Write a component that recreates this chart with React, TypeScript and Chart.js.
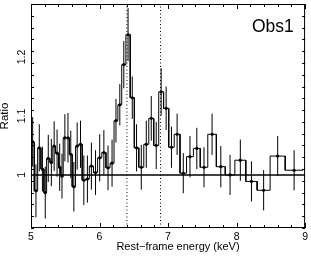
import React, { useEffect, useRef } from 'react';
import { Chart, registerables } from 'chart.js';

Chart.register(...registerables);

// ---- data ----
const binEdges = [
  5.000, 5.048, 5.097, 5.145, 5.188, 5.228, 5.276, 5.318, 5.358, 5.403, 5.434,
  5.470, 5.519, 5.560, 5.601, 5.650, 5.698, 5.747, 5.795, 5.851, 5.912, 5.972,
  6.033, 6.094, 6.154, 6.212, 6.268, 6.324, 6.385, 6.448, 6.508, 6.573, 6.646,
  6.719, 6.791, 6.864, 6.935, 7.010, 7.090, 7.175, 7.270, 7.370, 7.470, 7.580,
  7.705, 7.835, 7.975, 8.135, 8.300, 8.490, 8.710, 8.970,
];
const ratio = [
  1.056, 0.973, 1.046, 1.010, 0.970, 1.028, 1.021, 1.049, 1.037, 1.013, 0.998,
  1.063, 1.063, 1.035, 0.980, 1.049, 1.052, 0.991, 0.993, 1.015, 1.004,
  1.029, 1.038, 1.012, 1.020, 1.092, 1.119, 1.187, 1.238, 1.131, 1.046, 1.013,
  1.052, 1.096, 1.050, 1.141, 1.113, 1.047, 1.069, 1.003, 1.031, 1.045, 1.013,
  1.069, 1.014, 1.000, 1.025, 0.989, 0.974, 1.032, 1.008,
];
const ratioErr = [
  0.042, 0.045, 0.040, 0.038, 0.044, 0.040, 0.040, 0.042, 0.040, 0.040, 0.038,
  0.040, 0.042, 0.040, 0.042, 0.040, 0.040, 0.042, 0.040, 0.040, 0.038,
  0.040, 0.038, 0.038, 0.040, 0.037, 0.035, 0.040, 0.045, 0.036, 0.040, 0.038,
  0.040, 0.038, 0.040, 0.040, 0.037, 0.035, 0.035, 0.034, 0.035, 0.035, 0.034,
  0.035, 0.035, 0.034, 0.035, 0.034, 0.034, 0.034, 0.034,
];
const lineEnergies = [6.4, 6.89];
const refLevel = 1;
const xRange = [5, 9];
const yRange = [0.91, 1.29];
const xMajorTicks = [5, 6, 7, 8, 9];
const yMajorTicks = [1, 1.1, 1.2];
const yTickLabels = ['1', '1.1', '1.2'];
const xTitle = 'Rest\u2212frame energy (keV)';
const yTitle = 'Ratio';
const panelLabel = 'Obs1';

const FONT = '"Liberation Sans", Arial, Helvetica, sans-serif';

const framePlugin = {
  id: 'framePlugin',
  afterDraw(chart: any) {
    const { ctx, chartArea: a, scales } = chart;
    const x = scales.x;
    const y = scales.y;
    ctx.save();
    ctx.strokeStyle = '#000';
    ctx.fillStyle = '#000';
    ctx.lineWidth = 1;
    ctx.strokeRect(a.left + 0.5, a.top + 0.5, a.right - a.left - 1, a.bottom - a.top - 1);

    ctx.beginPath();
    for (const t of x.ticks) {
      const v = t.value;
      if (v < xRange[0] - 1e-9 || v > xRange[1] + 1e-9) continue;
      const major = xMajorTicks.some((m) => Math.abs(m - v) < 1e-6);
      const len = major ? 5 : 3;
      const px = Math.round(x.getPixelForValue(v)) + 0.5;
      ctx.moveTo(px, a.bottom);
      ctx.lineTo(px, a.bottom - len);
      ctx.moveTo(px, a.top);
      ctx.lineTo(px, a.top + len);
    }
    for (const t of y.ticks) {
      const v = t.value;
      if (v < yRange[0] - 1e-9 || v > yRange[1] + 1e-9) continue;
      const major = yMajorTicks.some((m) => Math.abs(m - v) < 1e-6);
      const len = major ? 5 : 3;
      const py = Math.round(y.getPixelForValue(v)) + 0.5;
      ctx.moveTo(a.left, py);
      ctx.lineTo(a.left + len, py);
      ctx.moveTo(a.right, py);
      ctx.lineTo(a.right - len, py);
    }
    ctx.stroke();

    // rotated y tick labels
    ctx.font = `10.5px ${FONT}`;
    ctx.textAlign = 'center';
    ctx.textBaseline = 'middle';
    yMajorTicks.forEach((v, i) => {
      const py = y.getPixelForValue(v);
      ctx.save();
      ctx.translate(22.5, py);
      ctx.rotate(-Math.PI / 2);
      ctx.fillText(yTickLabels[i], 0, 0);
      ctx.restore();
    });

    // y title
    ctx.font = `11.5px ${FONT}`;
    ctx.save();
    ctx.translate(5, (a.top + a.bottom) / 2);
    ctx.rotate(-Math.PI / 2);
    ctx.fillText(yTitle, 0, 0);
    ctx.restore();

    // x title
    ctx.font = `11px ${FONT}`;
    ctx.fillText(xTitle, 178, 246.5);

    // panel label
    ctx.font = `17.5px ${FONT}`;
    ctx.textAlign = 'left';
    ctx.textBaseline = 'alphabetic';
    ctx.fillText(panelLabel, 252, 32);
    ctx.restore();
  },
};

export default function App() {
  const canvasRef = useRef<HTMLCanvasElement | null>(null);

  useEffect(() => {
    if (!canvasRef.current) return;
    const stepData: { x: number; y: number }[] = [];
    ratio.forEach((v, i) => {
      stepData.push({ x: binEdges[i], y: v }, { x: binEdges[i + 1], y: v });
    });
    const centers = ratio.map((_, i) => (binEdges[i] + binEdges[i + 1]) / 2);
    const errData: { x: number; y: number | null }[] = [];
    ratio.forEach((v, i) => {
      errData.push(
        { x: centers[i], y: v - ratioErr[i] },
        { x: centers[i], y: v + ratioErr[i] },
        { x: centers[i], y: null }
      );
    });
    const pointData = ratio.map((v, i) => ({ x: centers[i], y: v }));

    const datasets: any[] = [
      {
        type: 'scatter',
        data: pointData,
        pointRadius: 1.6,
        pointBackgroundColor: '#000',
        pointBorderColor: '#000',
        pointBorderWidth: 0,
        showLine: false,
      },
      {
        type: 'line',
        data: stepData,
        borderColor: '#000',
        borderWidth: 1,
        pointRadius: 0,
        tension: 0,
        fill: false,
      },
      {
        type: 'line',
        data: errData,
        borderColor: '#000',
        borderWidth: 1,
        pointRadius: 0,
        spanGaps: false,
        fill: false,
      },
      {
        type: 'line',
        data: [
          { x: xRange[0], y: refLevel },
          { x: xRange[1], y: refLevel },
        ],
        borderColor: '#000',
        borderWidth: 1.5,
        pointRadius: 0,
        fill: false,
      },
      ...lineEnergies.map((e) => ({
        type: 'line',
        data: [
          { x: e, y: yRange[0] },
          { x: e, y: yRange[1] },
        ],
        borderColor: '#000',
        borderWidth: 1,
        borderDash: [1, 2.5],
        pointRadius: 0,
        fill: false,
      })),
    ];

    const chart = new Chart(canvasRef.current, {
      type: 'line',
      data: { datasets },
      options: {
        animation: false,
        responsive: true,
        maintainAspectRatio: false,
        layout: { padding: { top: 1, right: 5, left: 0, bottom: 0 } },
        plugins: { legend: { display: false }, tooltip: { enabled: false } },
        scales: {
          x: {
            type: 'linear',
            min: xRange[0],
            max: xRange[1],
            grid: { display: false, drawTicks: false },
            border: { display: false },
            ticks: {
              stepSize: 0.2,
              autoSkip: false,
              maxRotation: 0,
              minRotation: 0,
              padding: 3,
              color: '#000',
              font: { family: FONT, size: 10.5 },
              callback: (v: any) => {
                const n = Number(v);
                return xMajorTicks.some((m) => Math.abs(m - n) < 1e-6) ? String(Math.round(n)) : '';
              },
            },
            afterFit: (s: any) => {
              s.height = 28;
            },
          },
          y: {
            type: 'linear',
            min: yRange[0],
            max: yRange[1],
            grid: { display: false, drawTicks: false },
            border: { display: false },
            ticks: { stepSize: 0.02, display: false },
            afterFit: (s: any) => {
              s.width = 31;
            },
          },
        },
      },
      plugins: [framePlugin],
    });
    return () => chart.destroy();
  }, []);

  return (
    <div style={{ position: 'fixed', left: 0, top: 0, width: 311, height: 256, background: '#fff' }}>
      <canvas ref={canvasRef} />
    </div>
  );
}
